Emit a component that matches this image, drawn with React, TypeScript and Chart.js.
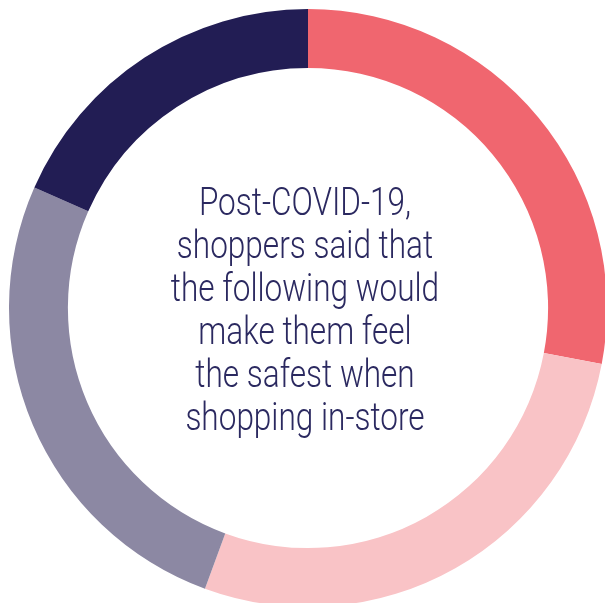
import React, { useEffect, useRef } from "react";
import { Chart, registerables } from "chart.js";

Chart.register(...registerables);

const categories = ["Segment A", "Segment B", "Segment C", "Segment D"];
const values = [28, 27.6, 26, 18.4];
const colors = ["#F0666F", "#F9C3C6", "#8C88A3", "#221D54"];
const centerLines = [
  "Post-COVID-19,",
  "shoppers said that",
  "the following would",
  "make them feel",
  "the safest when",
  "shopping in-store",
];

export default function App() {
  const ref = useRef<HTMLCanvasElement | null>(null);
  useEffect(() => {
    document.documentElement.style.overflow = "hidden";
    document.body.style.overflow = "hidden";
    if (!ref.current) return;
    const chart = new Chart(ref.current, {
      type: "doughnut",
      data: {
        labels: categories,
        datasets: [
          {
            data: values,
            backgroundColor: colors,
            borderWidth: 0,
          },
        ],
      },
      options: {
        animation: false,
        responsive: true,
        maintainAspectRatio: false,
        cutout: "80.3%",
        layout: { padding: 0 },
        plugins: {
          legend: { display: false },
          tooltip: { enabled: false },
        },
      },
    });
    return () => chart.destroy();
  }, []);

  return (
    <div
      style={{
        position: "fixed",
        left: 9,
        top: 9,
        width: 598,
        height: 598,
        background: "#ffffff",
      }}
    >
      <canvas ref={ref} />
      <div
        style={{
          position: "absolute",
          left: 0,
          top: 172,
          width: 592,
          textAlign: "center",
          fontFamily: "Roboto, sans-serif",
          fontWeight: 300,
          fontSize: 38,
          lineHeight: "43px",
          color: "#2B2960",
          transform: "scaleX(0.83)",
          transformOrigin: "296px 0",
          pointerEvents: "none",
        }}
      >
        {centerLines.map((l, i) => (
          <div key={i}>{l}</div>
        ))}
      </div>
    </div>
  );
}
